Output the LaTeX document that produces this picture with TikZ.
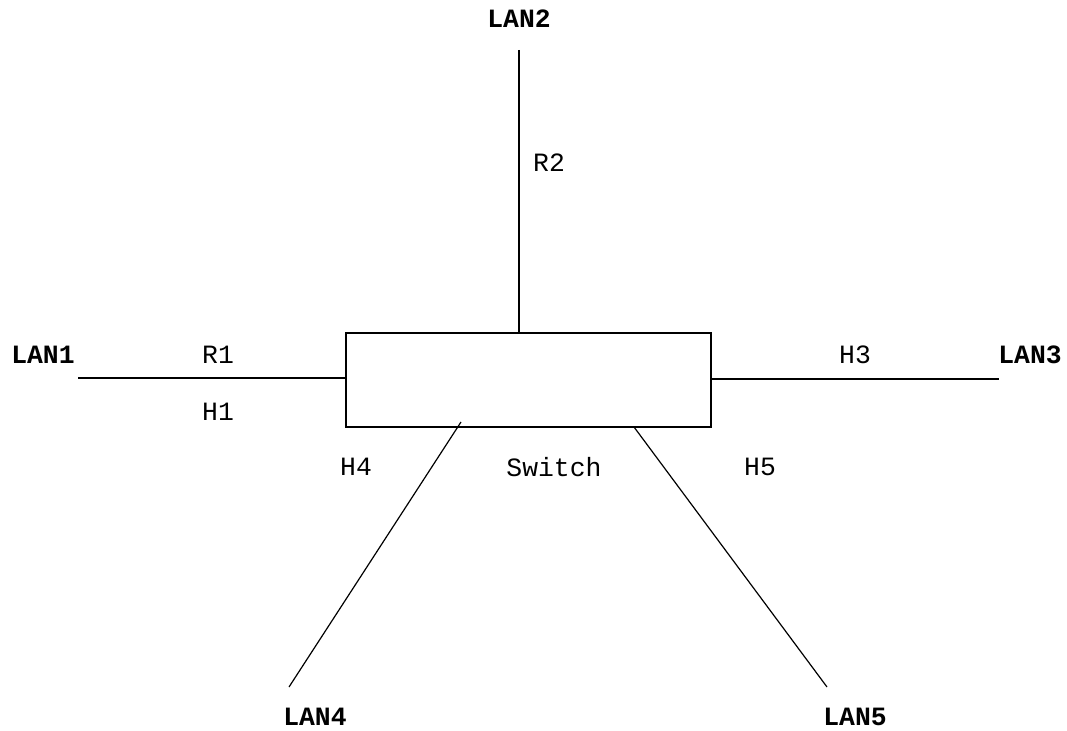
\documentclass[tikz,border=0pt]{standalone}
\usepackage{fontspec}
\setmonofont{Liberation Mono}
\begin{document}
\begin{tikzpicture}[x=0.75pt,y=-0.75pt,
  wire/.style={line width=0.9pt},
  lan/.style={font=\ttfamily\bfseries\fontsize{19.8}{22}\selectfont, inner sep=0pt},
  tag/.style={font=\ttfamily\fontsize{19.8}{22}\selectfont, inner sep=0pt}]
\useasboundingbox (0,0) rectangle (1067,731);
% switch box
\node[draw, line width=0.9pt, minimum width=365*0.75pt, minimum height=94*0.75pt, inner sep=0pt] (sw) at (528.5,380) {};
% free ends of the LAN segments
\coordinate (e1) at (78,378);
\coordinate (e2) at (519,50);
\coordinate (e3) at (999,379);
\coordinate (e4) at (289,687);
\coordinate (e5) at (827,687);
\coordinate (s4) at (461,422);
\coordinate (s5) at (634,427);
% connectors
\draw[wire] (e1) -- (sw.west |- e1);
\draw[wire] (e2) -- (e2 |- sw.north);
\draw[wire] (sw.east |- e3) -- (e3);
\draw[wire] (s4) -- (e4);
\draw[wire] (s5) -- (e5);
% LAN names
\node[lan] (l1) at (43,355) {LAN1};
\node[lan] (l2) at (519,19) {LAN2};
\node[lan] (l3) at (1030,355) {LAN3};
\node[lan] (l4) at (315,717) {LAN4};
\node[lan] (l5) at (855,717) {LAN5};
% port labels
\node[tag] (r1) at (218,355) {R1};
\node[tag] (h1) at (218,412) {H1};
\node[tag] (r2) at (549,163) {R2};
\node[tag] (h3) at (855,355) {H3};
\node[tag] (h4) at (356,467) {H4};
\node[tag] (h5) at (760,467) {H5};
\node[tag] (swl) at (554,467) {Switch};
\end{tikzpicture}
\end{document}
